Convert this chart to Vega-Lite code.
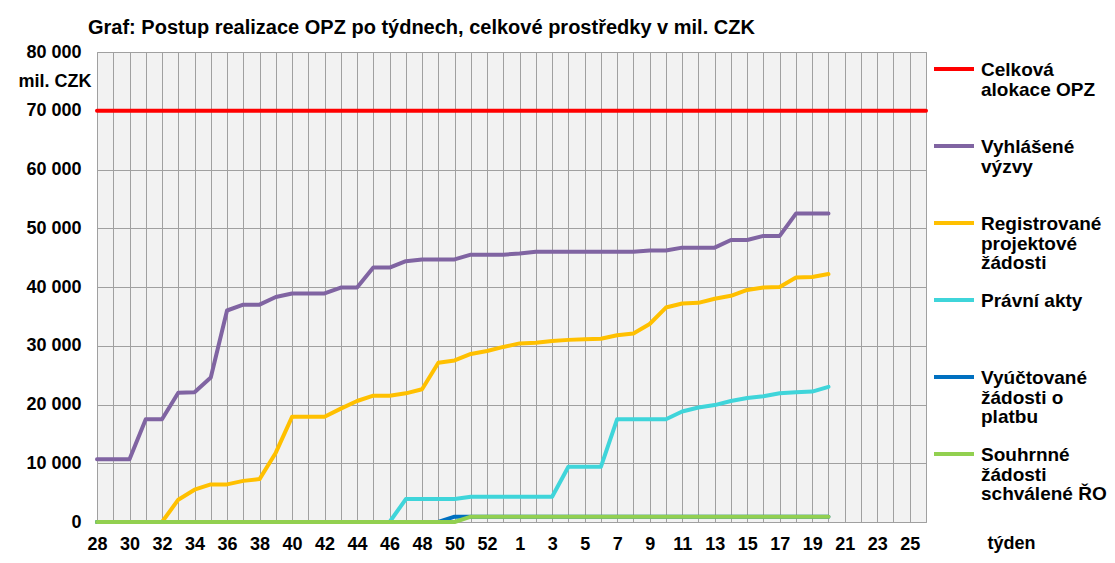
{
  "$schema": "https://vega.github.io/schema/vega-lite/v6.json",
  "width": 829,
  "height": 470,
  "autosize": {"type": "none"},
  "padding": {"left": 97, "top": 52, "right": 189, "bottom": 41},
  "background": "white",
  "title": {
    "text": "Graf: Postup realizace OPZ po týdnech, celkové prostředky v mil. CZK",
    "anchor": "start",
    "frame": "group",
    "dx": -9,
    "fontSize": 20,
    "fontWeight": "bold",
    "font": "Liberation Sans",
    "color": "black",
    "baseline": "alphabetic",
    "offset": -11
  },
  "data": {
    "values": [
      {"week": "28", "alokace": 70000, "vyzvy": 10700, "zadosti": 0, "akty": 0, "vyuctovane": 0, "souhrnne": 0},
      {"week": "29", "alokace": 70000, "vyzvy": 10700, "zadosti": 0, "akty": 0, "vyuctovane": 0, "souhrnne": 0},
      {"week": "30", "alokace": 70000, "vyzvy": 10700, "zadosti": 0, "akty": 0, "vyuctovane": 0, "souhrnne": 0},
      {"week": "31", "alokace": 70000, "vyzvy": 17500, "zadosti": 0, "akty": 0, "vyuctovane": 0, "souhrnne": 0},
      {"week": "32", "alokace": 70000, "vyzvy": 17500, "zadosti": 0, "akty": 0, "vyuctovane": 0, "souhrnne": 0},
      {"week": "33", "alokace": 70000, "vyzvy": 22000, "zadosti": 3800, "akty": 0, "vyuctovane": 0, "souhrnne": 0},
      {"week": "34", "alokace": 70000, "vyzvy": 22100, "zadosti": 5500, "akty": 0, "vyuctovane": 0, "souhrnne": 0},
      {"week": "35", "alokace": 70000, "vyzvy": 24600, "zadosti": 6400, "akty": 0, "vyuctovane": 0, "souhrnne": 0},
      {"week": "36", "alokace": 70000, "vyzvy": 36000, "zadosti": 6400, "akty": 0, "vyuctovane": 0, "souhrnne": 0},
      {"week": "37", "alokace": 70000, "vyzvy": 37000, "zadosti": 7000, "akty": 0, "vyuctovane": 0, "souhrnne": 0},
      {"week": "38", "alokace": 70000, "vyzvy": 37000, "zadosti": 7300, "akty": 0, "vyuctovane": 0, "souhrnne": 0},
      {"week": "39", "alokace": 70000, "vyzvy": 38300, "zadosti": 11800, "akty": 0, "vyuctovane": 0, "souhrnne": 0},
      {"week": "40", "alokace": 70000, "vyzvy": 38900, "zadosti": 17900, "akty": 0, "vyuctovane": 0, "souhrnne": 0},
      {"week": "41", "alokace": 70000, "vyzvy": 38900, "zadosti": 17900, "akty": 0, "vyuctovane": 0, "souhrnne": 0},
      {"week": "42", "alokace": 70000, "vyzvy": 38900, "zadosti": 17900, "akty": 0, "vyuctovane": 0, "souhrnne": 0},
      {"week": "43", "alokace": 70000, "vyzvy": 39900, "zadosti": 19300, "akty": 0, "vyuctovane": 0, "souhrnne": 0},
      {"week": "44", "alokace": 70000, "vyzvy": 39900, "zadosti": 20600, "akty": 0, "vyuctovane": 0, "souhrnne": 0},
      {"week": "45", "alokace": 70000, "vyzvy": 43300, "zadosti": 21500, "akty": 0, "vyuctovane": 0, "souhrnne": 0},
      {"week": "46", "alokace": 70000, "vyzvy": 43300, "zadosti": 21500, "akty": 0, "vyuctovane": 0, "souhrnne": 0},
      {"week": "47", "alokace": 70000, "vyzvy": 44400, "zadosti": 21900, "akty": 3900, "vyuctovane": 0, "souhrnne": 0},
      {"week": "48", "alokace": 70000, "vyzvy": 44700, "zadosti": 22600, "akty": 3900, "vyuctovane": 0, "souhrnne": 0},
      {"week": "49", "alokace": 70000, "vyzvy": 44700, "zadosti": 27100, "akty": 3900, "vyuctovane": 0, "souhrnne": 0},
      {"week": "50", "alokace": 70000, "vyzvy": 44700, "zadosti": 27500, "akty": 3900, "vyuctovane": 900, "souhrnne": 0},
      {"week": "51", "alokace": 70000, "vyzvy": 45500, "zadosti": 28600, "akty": 4300, "vyuctovane": 900, "souhrnne": 900},
      {"week": "52", "alokace": 70000, "vyzvy": 45500, "zadosti": 29100, "akty": 4300, "vyuctovane": 900, "souhrnne": 900},
      {"week": "53", "alokace": 70000, "vyzvy": 45500, "zadosti": 29800, "akty": 4300, "vyuctovane": 900, "souhrnne": 900},
      {"week": "1", "alokace": 70000, "vyzvy": 45700, "zadosti": 30400, "akty": 4300, "vyuctovane": 900, "souhrnne": 900},
      {"week": "2", "alokace": 70000, "vyzvy": 46000, "zadosti": 30500, "akty": 4300, "vyuctovane": 900, "souhrnne": 900},
      {"week": "3", "alokace": 70000, "vyzvy": 46000, "zadosti": 30800, "akty": 4300, "vyuctovane": 900, "souhrnne": 900},
      {"week": "4", "alokace": 70000, "vyzvy": 46000, "zadosti": 31000, "akty": 9400, "vyuctovane": 900, "souhrnne": 900},
      {"week": "5", "alokace": 70000, "vyzvy": 46000, "zadosti": 31100, "akty": 9400, "vyuctovane": 900, "souhrnne": 900},
      {"week": "6", "alokace": 70000, "vyzvy": 46000, "zadosti": 31200, "akty": 9400, "vyuctovane": 900, "souhrnne": 900},
      {"week": "7", "alokace": 70000, "vyzvy": 46000, "zadosti": 31800, "akty": 17500, "vyuctovane": 900, "souhrnne": 900},
      {"week": "8", "alokace": 70000, "vyzvy": 46000, "zadosti": 32100, "akty": 17500, "vyuctovane": 900, "souhrnne": 900},
      {"week": "9", "alokace": 70000, "vyzvy": 46200, "zadosti": 33700, "akty": 17500, "vyuctovane": 900, "souhrnne": 900},
      {"week": "10", "alokace": 70000, "vyzvy": 46200, "zadosti": 36500, "akty": 17500, "vyuctovane": 900, "souhrnne": 900},
      {"week": "11", "alokace": 70000, "vyzvy": 46700, "zadosti": 37200, "akty": 18800, "vyuctovane": 900, "souhrnne": 900},
      {"week": "12", "alokace": 70000, "vyzvy": 46700, "zadosti": 37300, "akty": 19500, "vyuctovane": 900, "souhrnne": 900},
      {"week": "13", "alokace": 70000, "vyzvy": 46700, "zadosti": 38000, "akty": 19900, "vyuctovane": 900, "souhrnne": 900},
      {"week": "14", "alokace": 70000, "vyzvy": 48000, "zadosti": 38500, "akty": 20600, "vyuctovane": 900, "souhrnne": 900},
      {"week": "15", "alokace": 70000, "vyzvy": 48000, "zadosti": 39500, "akty": 21100, "vyuctovane": 900, "souhrnne": 900},
      {"week": "16", "alokace": 70000, "vyzvy": 48700, "zadosti": 39900, "akty": 21400, "vyuctovane": 900, "souhrnne": 900},
      {"week": "17", "alokace": 70000, "vyzvy": 48700, "zadosti": 40000, "akty": 21900, "vyuctovane": 900, "souhrnne": 900},
      {"week": "18", "alokace": 70000, "vyzvy": 52500, "zadosti": 41600, "akty": 22100, "vyuctovane": 900, "souhrnne": 900},
      {"week": "19", "alokace": 70000, "vyzvy": 52500, "zadosti": 41700, "akty": 22200, "vyuctovane": 900, "souhrnne": 900},
      {"week": "20", "alokace": 70000, "vyzvy": 52500, "zadosti": 42200, "akty": 23000, "vyuctovane": 900, "souhrnne": 900},
      {"week": "21", "alokace": 70000, "vyzvy": null, "zadosti": null, "akty": null, "vyuctovane": null, "souhrnne": null},
      {"week": "22", "alokace": 70000, "vyzvy": null, "zadosti": null, "akty": null, "vyuctovane": null, "souhrnne": null},
      {"week": "23", "alokace": 70000, "vyzvy": null, "zadosti": null, "akty": null, "vyuctovane": null, "souhrnne": null},
      {"week": "24", "alokace": 70000, "vyzvy": null, "zadosti": null, "akty": null, "vyuctovane": null, "souhrnne": null},
      {"week": "25", "alokace": 70000, "vyzvy": null, "zadosti": null, "akty": null, "vyuctovane": null, "souhrnne": null},
      {"week": "26", "alokace": 70000, "vyzvy": null, "zadosti": null, "akty": null, "vyuctovane": null, "souhrnne": null}
    ]
  },
  "transform": [
    {"fold": ["alokace", "vyzvy", "zadosti", "akty", "vyuctovane", "souhrnne"], "as": ["series", "value"]}
  ],
  "mark": {"type": "line", "strokeWidth": 4, "strokeJoin": "round", "strokeCap": "round"},
  "encoding": {
    "x": {
      "field": "week",
      "type": "ordinal",
      "scale": {
        "type": "point",
        "padding": 0,
        "domain": ["28","29","30","31","32","33","34","35","36","37","38","39","40","41","42","43","44","45","46","47","48","49","50","51","52","53","1","2","3","4","5","6","7","8","9","10","11","12","13","14","15","16","17","18","19","20","21","22","23","24","25","26"]
      },
      "axis": {
        "title": "týden",
        "titleX": 890,
        "titleY": 26,
        "titleAlign": "left",
        "titleBaseline": "alphabetic",
        "titleFontSize": 18,
        "titleFontWeight": "bold",
        "titleColor": "black",
        "titleFont": "Liberation Sans",
        "labelAngle": 0,
        "labelFont": "Liberation Sans",
        "labelFontSize": 18,
        "labelFontWeight": "bold",
        "labelColor": "black",
        "labelPadding": 13,
        "labelBaseline": "top",
        "labelOverlap": false,
        "ticks": false,
        "domain": false,
        "grid": true,
        "gridColor": "#A0A0A0",
        "gridWidth": 1,
        "gridOpacity": 1,
        "labelExpr": "(toNumber(datum.value) >= 28 ? toNumber(datum.value) % 2 == 0 : toNumber(datum.value) % 2 == 1) ? datum.label : ''"
      }
    },
    "y": {
      "field": "value",
      "type": "quantitative",
      "scale": {"domain": [0, 80000], "nice": false},
      "axis": {
        "title": null,
        "values": [0, 10000, 20000, 30000, 40000, 50000, 60000, 70000, 80000, 75000],
        "labelExpr": "datum.value == 75000 ? 'mil. CZK' : replace(format(datum.value, ','), ',', ' ')",
        "labelFont": "Liberation Sans",
        "labelFontSize": 18,
        "labelFontWeight": "bold",
        "labelColor": "black",
        "labelOverlap": false,
        "ticks": false,
        "domain": false,
        "grid": true,
        "gridColor": "#A0A0A0",
        "gridWidth": 1,
        "gridOpacity": {"condition": {"test": "datum.value == 75000", "value": 0}, "value": 1},
        "labelPadding": {"condition": {"test": "datum.value == 75000", "value": 6}, "value": 16}
      }
    },
    "color": {
      "field": "series",
      "type": "nominal",
      "scale": {
        "domain": ["alokace", "vyzvy", "zadosti", "akty", "vyuctovane", "souhrnne"],
        "range": ["#FF0000", "#8064A2", "#FFC000", "#3FD5DA", "#0070C0", "#92D050"]
      },
      "legend": {
        "title": null,
        "orient": "none",
        "direction": "vertical",
        "columns": 1,
        "legendX": 835,
        "legendY": -5,
        "padding": 0,
        "symbolType": "stroke",
        "symbolSize": 1600,
        "symbolStrokeWidth": 4,
        "labelFont": "Liberation Sans",
        "labelFontSize": 19,
        "labelFontWeight": "bold",
        "labelColor": "black",
        "labelOffset": 5,
        "labelLimit": 300,
        "labelBaseline": "top",
        "rowPadding": 5,
        "gridAlign": "all",
        "labelExpr": "datum.value == 'alokace' ? ['Celková', 'alokace OPZ'] : datum.value == 'vyzvy' ? ['Vyhlášené', 'výzvy'] : datum.value == 'zadosti' ? ['Registrované', 'projektové', 'žádosti'] : datum.value == 'akty' ? 'Právní akty' : datum.value == 'vyuctovane' ? ['Vyúčtované', 'žádosti o', 'platbu'] : ['Souhrnné', 'žádosti', 'schválené ŘO']",
        "encode": {"labels": {"update": {"lineHeight": {"value": 19.5}, "dy": {"value": -8}}}}
      }
    }
  },
  "config": {
    "view": {"fill": "#F2F2F2", "stroke": "#A0A0A0"},
    "font": "Liberation Sans"
  }
}
